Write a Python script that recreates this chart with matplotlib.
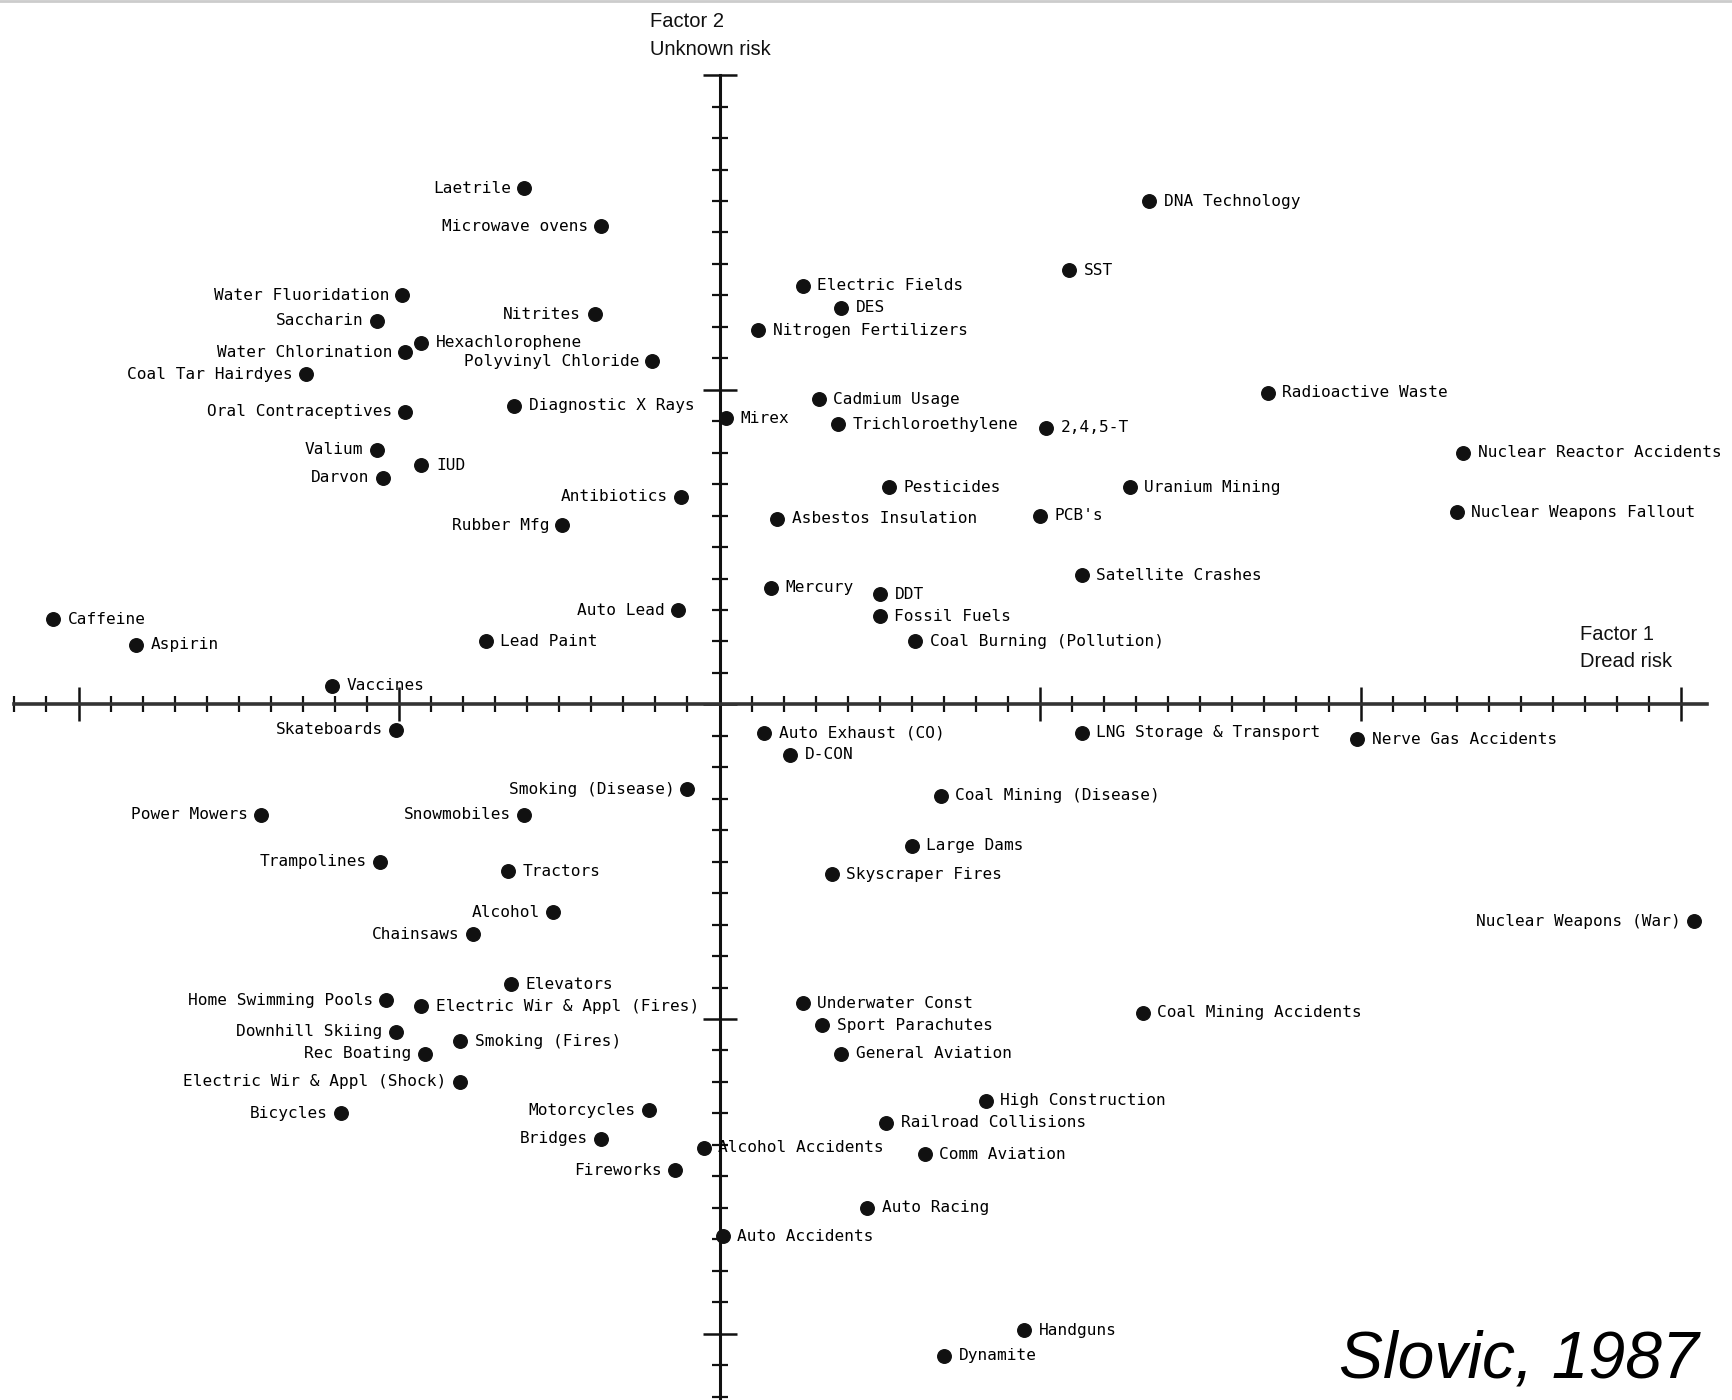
import numpy as np
import matplotlib
matplotlib.use("Agg")
import matplotlib.pyplot as plt
from matplotlib.lines import Line2D
from matplotlib.ticker import FixedLocator

# --- Data (Factor 1 = dread risk, Factor 2 = unknown risk) ---
hazards = [
    "Laetrile", "Microwave ovens", "Water Fluoridation", "Saccharin", "Nitrites",
    "Hexachlorophene", "Water Chlorination", "Polyvinyl Chloride", "Coal Tar Hairdyes",
    "Oral Contraceptives", "Diagnostic X Rays", "Valium", "IUD", "Darvon", "Antibiotics",
    "Rubber Mfg", "Auto Lead", "Caffeine", "Aspirin", "Lead Paint", "Vaccines",
    "DNA Technology", "SST", "Electric Fields", "DES", "Nitrogen Fertilizers",
    "Radioactive Waste", "Cadmium Usage", "Mirex", "Trichloroethylene", "2,4,5-T",
    "Nuclear Reactor Accidents", "Pesticides", "Uranium Mining", "PCB's",
    "Nuclear Weapons Fallout", "Asbestos Insulation", "Satellite Crashes", "Mercury",
    "DDT", "Fossil Fuels", "Coal Burning (Pollution)",
    "Skateboards", "Smoking (Disease)", "Power Mowers", "Snowmobiles", "Trampolines",
    "Tractors", "Alcohol", "Chainsaws", "Elevators", "Home Swimming Pools",
    "Electric Wir & Appl (Fires)", "Downhill Skiing", "Smoking (Fires)", "Rec Boating",
    "Electric Wir & Appl (Shock)", "Bicycles", "Motorcycles", "Bridges", "Fireworks",
    "Alcohol Accidents", "Auto Accidents",
    "Auto Exhaust (CO)", "D-CON", "LNG Storage & Transport", "Nerve Gas Accidents",
    "Coal Mining (Disease)", "Large Dams", "Skyscraper Fires", "Nuclear Weapons (War)",
    "Underwater Const", "Coal Mining Accidents", "Sport Parachutes", "General Aviation",
    "High Construction", "Railroad Collisions", "Comm Aviation", "Auto Racing",
    "Handguns", "Dynamite",
]

dread = [
    -0.61, -0.37, -0.99, -1.07, -0.39,
    -0.93, -0.98, -0.21, -1.29,
    -0.98, -0.64, -1.07, -0.93, -1.05, -0.12,
    -0.49, -0.13, -2.08, -1.82, -0.73, -1.21,
    1.34, 1.09, 0.26, 0.38, 0.12,
    1.71, 0.31, 0.02, 0.37, 1.02,
    2.32, 0.53, 1.28, 1.00,
    2.30, 0.18, 1.13, 0.16,
    0.50, 0.50, 0.61,
    -1.01, -0.10, -1.43, -0.61, -1.06,
    -0.66, -0.52, -0.77, -0.65, -1.04,
    -0.93, -1.01, -0.81, -0.92,
    -0.81, -1.18, -0.22, -0.37, -0.14,
    -0.05, 0.01,
    0.14, 0.22, 1.13, 1.99,
    0.69, 0.60, 0.35, 3.04,
    0.26, 1.32, 0.32, 0.38,
    0.83, 0.52, 0.64, 0.46,
    0.95, 0.70,
]

unknown = [
    1.64, 1.52, 1.30, 1.22, 1.24,
    1.15, 1.12, 1.09, 1.05,
    0.93, 0.95, 0.81, 0.76, 0.72, 0.66,
    0.57, 0.30, 0.27, 0.19, 0.20, 0.06,
    1.60, 1.38, 1.33, 1.26, 1.19,
    0.99, 0.97, 0.91, 0.89, 0.88,
    0.80, 0.69, 0.69, 0.60,
    0.61, 0.59, 0.41, 0.37,
    0.35, 0.28, 0.20,
    -0.08, -0.27, -0.35, -0.35, -0.50,
    -0.53, -0.66, -0.73, -0.89, -0.94,
    -0.96, -1.04, -1.07, -1.11,
    -1.20, -1.30, -1.29, -1.38, -1.48,
    -1.41, -1.69,
    -0.09, -0.16, -0.09, -0.11,
    -0.29, -0.45, -0.54, -0.69,
    -0.95, -0.98, -1.02, -1.11,
    -1.26, -1.33, -1.43, -1.60,
    -1.99, -2.07,
]

# labels drawn to the left of their dot
left_side = {
    "Laetrile", "Microwave ovens", "Water Fluoridation", "Saccharin", "Nitrites",
    "Water Chlorination", "Polyvinyl Chloride", "Coal Tar Hairdyes", "Oral Contraceptives",
    "Valium", "Darvon", "Antibiotics", "Rubber Mfg", "Auto Lead",
    "Skateboards", "Smoking (Disease)", "Power Mowers", "Snowmobiles", "Trampolines",
    "Alcohol", "Chainsaws", "Home Swimming Pools", "Downhill Skiing", "Rec Boating",
    "Electric Wir & Appl (Shock)", "Bicycles", "Motorcycles", "Bridges", "Fireworks",
    "Nuclear Weapons (War)",
}

# --- Plotting ---
ink = "#111111"
fig = plt.figure(figsize=(17.33, 14.0), dpi=100)
ax = fig.add_axes([0, 0, 1, 1])
ax.set_xlim(-2.245, 3.162)
ax.set_ylim(-2.211, 2.239)

for side in ["top", "right"]:
    ax.spines[side].set_visible(False)
ax.spines["left"].set_position(("data", 0))
ax.spines["bottom"].set_position(("data", 0))
ax.spines["bottom"].set_bounds(-2.2, 3.08)
ax.spines["left"].set_bounds(-2.211, 2.0)
ax.spines["bottom"].set_linewidth(2.6)
ax.spines["left"].set_linewidth(2.2)
ax.spines["bottom"].set_color("#333333")
ax.spines["left"].set_color(ink)

# ticks only along the drawn part of each axis
x_major = [-2, -1, 0, 1, 2, 3]
y_major = [-2, -1, 0, 1, 2]
x_minor = [v / 10 for v in range(-22, 31) if v % 10]
y_minor = [v / 10 for v in range(-22, 20) if v % 10]
ax.xaxis.set_major_locator(FixedLocator(x_major))
ax.xaxis.set_minor_locator(FixedLocator(x_minor))
ax.yaxis.set_major_locator(FixedLocator(y_major))
ax.yaxis.set_minor_locator(FixedLocator(y_minor))
ax.tick_params(which="major", direction="inout", length=24, width=1.8, color=ink,
               labelbottom=False, labelleft=False)
ax.tick_params(which="minor", direction="inout", length=11, width=1.6, color=ink)

ax.scatter(dread, unknown, s=95, color=ink, zorder=5, clip_on=False)

for name, x, y in zip(hazards, dread, unknown):
    if name in left_side:
        off, ha = -9.5, "right"
    else:
        off, ha = 10.5, "left"
    ax.annotate(name, (x, y), xytext=(off, 0), textcoords="offset points",
                ha=ha, va="center", fontsize=11.6, family="DejaVu Sans Mono",
                color="#000000", zorder=6)

# axis titles
ax.text(-0.217, 2.20, "Factor 2\nUnknown risk", ha="left", va="top",
        fontsize=14.5, family="Liberation Sans", color=ink, linespacing=1.6)
ax.text(2.686, 0.252, "Factor 1\nDread risk", ha="left", va="top",
        fontsize=14.5, family="Liberation Sans", color=ink, linespacing=1.55)

fig.text(0.980, 0.016, "Slovic, 1987", ha="right", va="baseline",
         fontsize=47.5, style="italic", family="Liberation Sans", color="black")

# faint scan border at the top
fig.add_artist(Line2D([0, 1], [0.999, 0.999], transform=fig.transFigure,
                      color="#cccccc", lw=2))

fig.savefig("out.png", dpi=100)
